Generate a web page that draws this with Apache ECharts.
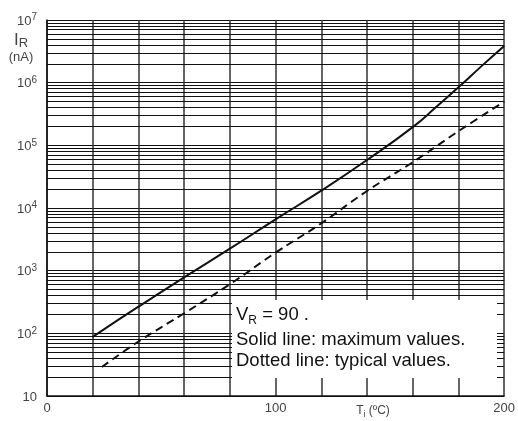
<!DOCTYPE html>
<html>
<head>
<meta charset="utf-8">
<script src="https://cdn.jsdelivr.net/npm/echarts@6/dist/echarts.min.js"></script>
<style>html,body{margin:0;padding:0;background:#fff;}#c{width:518px;height:421px;}</style>
</head>
<body>
<div id="c"></div>
<script>
// Data
const maxTemps = [20, 40, 60, 80, 100, 120, 140, 160, 170, 180, 190, 200];
const maxValues = [88, 266, 783, 2240, 6600, 18900, 58300, 195000, 400000, 843000, 1820000, 3850000];
const typTemps = [24, 40, 60, 80, 100, 120, 140, 160, 180, 200];
const typValues = [29, 74, 209, 606, 1940, 5690, 18700, 53700, 168000, 497000];
const xTickLabels = [0, 100, 200];
const decades = [1, 2, 3, 4, 5, 6];
const minorMultipliers = [2, 3, 4, 5, 6, 7, 8, 9];

const minorLines = [];
decades.forEach(function (d) {
  minorMultipliers.forEach(function (m) { minorLines.push({ yAxis: m * Math.pow(10, d) }); });
});

const FONT = 'Liberation Sans, Arial, sans-serif';
const chart = echarts.init(document.getElementById('c'));
chart.setOption({
  animation: false,
  backgroundColor: '#fff',
  grid: { left: 47, right: 11, top: 20, bottom: 25, containLabel: false },
  xAxis: {
    type: 'value', min: 0, max: 200, interval: 20,
    axisLine: { show: true, lineStyle: { color: '#111', width: 1.5 } },
    axisTick: { show: false },
    splitLine: { show: true, lineStyle: { color: '#333', width: 1.5 } },
    axisLabel: {
      color: '#444', fontFamily: FONT, fontSize: 13, margin: 6,
      formatter: function (v) { return xTickLabels.indexOf(v) >= 0 ? String(v) : ''; }
    }
  },
  yAxis: {
    type: 'log', logBase: 10, min: 10, max: 10000000,
    axisLine: { show: true, lineStyle: { color: '#111', width: 1.5 } },
    axisTick: { show: false },
    splitLine: { show: true, lineStyle: { color: '#111', width: 1.2 } },
    axisLabel: {
      color: '#444', fontFamily: FONT, fontSize: 13, margin: 10,
      formatter: function (v) {
        const e = Math.round(Math.log10(v));
        return e === 1 ? '{b|10}' : '{b|10}{s|' + e + '}';
      },
      rich: {
        b: { fontSize: 13, fontFamily: FONT, color: '#444', lineHeight: 15, verticalAlign: 'bottom' },
        s: { fontSize: 10, fontFamily: FONT, color: '#444', lineHeight: 15, verticalAlign: 'top' }
      }
    }
  },
  series: [
    {
      type: 'line', name: 'max',
      data: maxTemps.map(function (t, i) { return [t, maxValues[i]]; }),
      showSymbol: false, smooth: 0.5,
      lineStyle: { color: '#111', width: 2 },
      markLine: {
        silent: true, symbol: 'none', label: { show: false },
        lineStyle: { color: '#111', width: 1.2, type: 'solid' },
        data: minorLines, z: 1
      },
      z: 5
    },
    {
      type: 'line', name: 'typ',
      data: typTemps.map(function (t, i) { return [t, typValues[i]]; }),
      showSymbol: false, smooth: 0.4,
      lineStyle: { color: '#111', width: 2, type: [8, 5] },
      z: 5
    }
  ],
  graphic: [
    { type: 'rect', shape: { x: 232, y: 300, width: 265, height: 78 }, style: { fill: '#fff' }, z: 100 },
    { type: 'text', x: 236, y: 316, z: 101,
      style: { text: '{a|V}{r|R}{a| = 90 .}', verticalAlign: 'middle',
        rich: { a: { fontSize: 18.5, fontFamily: FONT, fill: '#111', lineHeight: 22, verticalAlign: 'top' },
                r: { fontSize: 12, fontFamily: FONT, fill: '#111', lineHeight: 22, verticalAlign: 'bottom' } } } },
    { type: 'text', x: 236, y: 340, z: 101,
      style: { text: 'Solid line: maximum values.', fontSize: 18.5, fontFamily: FONT, fill: '#111', verticalAlign: 'middle' } },
    { type: 'text', x: 236, y: 361, z: 101,
      style: { text: 'Dotted line: typical values.', fontSize: 18.5, fontFamily: FONT, fill: '#111', verticalAlign: 'middle' } },
    { type: 'text', x: 14, y: 41, z: 101,
      style: { text: '{a|I}{r|R}', verticalAlign: 'middle',
        rich: { a: { fontSize: 17, fontFamily: FONT, fill: '#444', lineHeight: 18, verticalAlign: 'top' },
                r: { fontSize: 13, fontFamily: FONT, fill: '#444', lineHeight: 18, verticalAlign: 'bottom' } } } },
    { type: 'text', x: 21, y: 57, z: 101,
      style: { text: '(nA)', fontSize: 13, fontFamily: FONT, fill: '#444', align: 'center', verticalAlign: 'middle' } },
    { type: 'text', x: 373, y: 412, z: 101,
      style: { text: '{a|T}{r|i}{a| (ºC)}', align: 'center', verticalAlign: 'middle',
        rich: { a: { fontSize: 12, fontFamily: FONT, fill: '#444', lineHeight: 14, verticalAlign: 'top' },
                r: { fontSize: 9, fontFamily: FONT, fill: '#444', lineHeight: 14, verticalAlign: 'bottom' } } } }
  ]
});
</script>
</body>
</html>
